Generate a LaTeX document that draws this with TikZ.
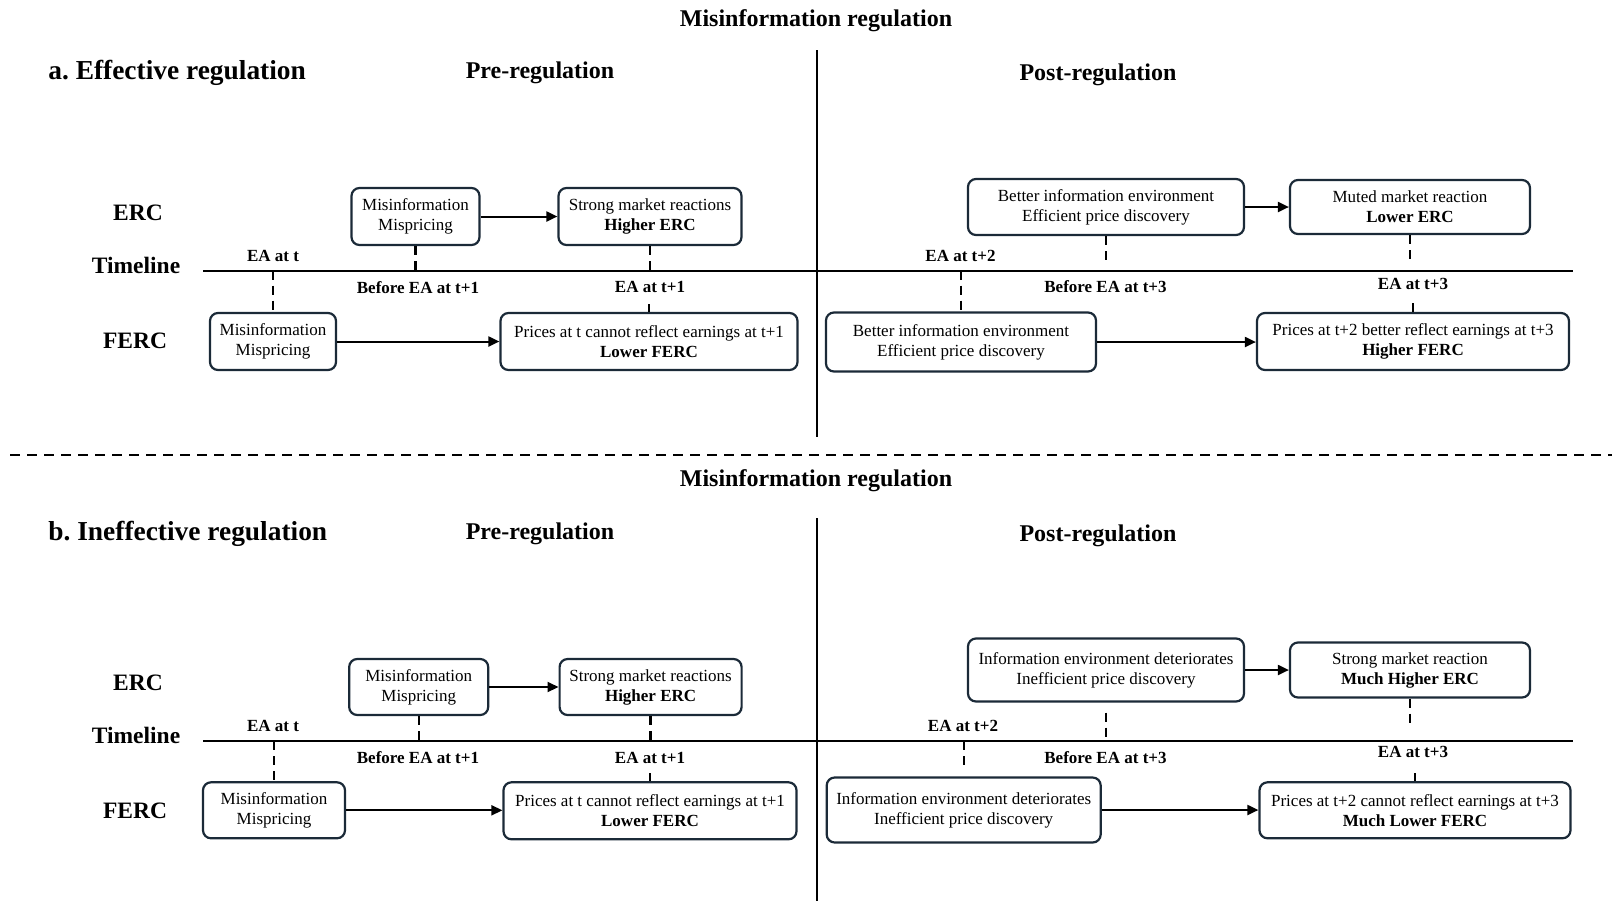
\documentclass[tikz,border=0pt]{standalone}
\usepackage{fontspec}
\setmainfont{Liberation Serif}
\usetikzlibrary{arrows.meta}
\definecolor{boxline}{HTML}{1B2A38}
\tikzset{
    box/.style = {draw = boxline, line width = 1.1pt, rounded corners = 4pt, align = center, inner sep = 1pt, font = \fontsize{8.5}{10}\selectfont},
    flow/.style = {-{Triangle[length = 5.5pt, width = 5pt]}, line width = 1pt},
    tick/.style = {line width = 1.2pt, dash pattern = on 4.5pt off 3pt},
    when/.style = {font = \bfseries\fontsize{8.5}{10}\selectfont},
    rowlab/.style = {font = \bfseries\fontsize{11.75}{14}\selectfont},
    phase/.style = {font = \bfseries\fontsize{12}{14}\selectfont},
    panel/.style = {font = \bfseries\fontsize{13.7}{16}\selectfont, anchor = west, inner sep = 0pt}
}
\begin{document}
\begin{tikzpicture}[x = 0.5pt, y = -0.5pt]
            \useasboundingbox (0, 0) rectangle (1612, 901);
            % a. effective regulation
            \node [phase] (titlea) at (816, 21) {Misinformation regulation};
            \node [panel] (panela) at (48, 73) {a.\ Effective regulation};
            \node [phase] (prea) at (540, 73) {Pre-regulation};
            \node [phase] (posta) at (1098, 75) {Post-regulation};
            \draw [line width = 1.3pt] (817, 50) -- (817, 437);
            \node [rowlab] (erca) at (138, 213) {ERC};
            \node [rowlab] (linea) at (136, 265) {Timeline};
            \node [rowlab] (ferca) at (135, 341) {FERC};
            \coordinate (tla) at (203, 270.7);
            \coordinate (tlb) at (1573, 270.7);
            \draw [line width = 1pt] (tla) -- (tlb);
            \node [box, minimum width = 64pt, minimum height = 28.5pt] (a1) at (415.5, 216.5) {Misinformation\\Mispricing};
            \node [box, minimum width = 91.5pt, minimum height = 28.5pt] (a2) at (650, 216.5) {Strong market reactions\\\textbf{Higher ERC}};
            \node [box, minimum width = 138pt, minimum height = 28pt] (a3) at (1106, 207) {Better information environment\\Efficient price discovery};
            \node [box, minimum width = 120pt, minimum height = 27pt] (a4) at (1410, 207) {Muted market reaction\\\textbf{Lower ERC}};
            \node [box, minimum width = 63pt, minimum height = 28.5pt] (f1) at (273, 341.5) {Misinformation\\Mispricing};
            \node [box, minimum width = 148.5pt, minimum height = 28.5pt] (f2) at (649, 341.5) {Prices at t cannot reflect earnings at t+1\\\textbf{Lower FERC}};
            \node [box, minimum width = 135pt, minimum height = 29.5pt] (f3) at (961, 342) {Better information environment\\Efficient price discovery};
            \node [box, minimum width = 156pt, minimum height = 28.5pt] (f4) at (1413, 341.5) {Prices at t+2 better reflect earnings at t+3\\\textbf{Higher FERC}};
            \draw [flow] (a1) -- (a2);
            \draw [flow] (a3.east) -- (a3.east -| a4.west);
            \draw [flow] (f1) -- (f2);
            \draw [flow] (f3.east) -- (f3.east -| f4.west);
            \node [when] (eta) at (273, 256) {EA at t};
            \node [when] (beta) at (418, 288) {Before EA at t+1};
            \node [when] (etb) at (650, 287) {EA at t+1};
            \node [when] (etc) at (960.5, 256) {EA at t+2};
            \node [when] (betc) at (1105.5, 287) {Before EA at t+3};
            \node [when] (etd) at (1413, 284) {EA at t+3};
            \coordinate (dtb) at (649, 304);
            \coordinate (dtd) at (1413, 303);
            \draw [tick] (a1.south) -- (a1.south |- tla);
            \draw [tick] (a2.south) -- (a2.south |- tla);
            \draw [tick, shorten >= 3.5pt] (a3.south) -- (a3.south |- tla);
            \draw [tick, shorten >= 3.5pt] (a4.south) -- (a4.south |- tla);
            \draw [tick] (f1.north |- tla) -- (f1.north);
            \draw [tick] (f3.north |- tla) -- (f3.north);
            \draw [line width = 1.2pt] (dtb) -- (f2.north);
            \draw [line width = 1.2pt] (dtd) -- (f4.north);
            % separator
            \coordinate (sepl) at (10, 455);
            \coordinate (sepr) at (1612, 455);
            \draw [line width = 1.2pt, dash pattern = on 5pt off 3.5pt] (sepl) -- (sepr);
            % b. ineffective regulation
            \node [phase] (titleb) at (816, 481) {Misinformation regulation};
            \node [panel] (panelb) at (48, 534) {b.\ Ineffective regulation};
            \node [phase] (preb) at (540, 534) {Pre-regulation};
            \node [phase] (postb) at (1098, 536) {Post-regulation};
            \draw [line width = 1.3pt] (817, 518) -- (817, 901);
            \node [rowlab] (ercb) at (138, 683) {ERC};
            \node [rowlab] (lineb) at (136, 735) {Timeline};
            \node [rowlab] (fercb) at (135, 811) {FERC};
            \coordinate (tlc) at (203, 741);
            \coordinate (tld) at (1573, 741);
            \draw [line width = 1pt] (tlc) -- (tld);
            \node [box, minimum width = 69.5pt, minimum height = 28pt] (b1) at (418.7, 687) {Misinformation\\Mispricing};
            \node [box, minimum width = 91pt, minimum height = 28pt] (b2) at (650.6, 687) {Strong market reactions\\\textbf{Higher ERC}};
            \node [box, minimum width = 138pt, minimum height = 31.5pt] (b3) at (1106, 670) {Information environment deteriorates\\Inefficient price discovery};
            \node [box, minimum width = 120pt, minimum height = 27.5pt] (b4) at (1410, 670) {Strong market reaction\\\textbf{Much Higher ERC}};
            \node [box, minimum width = 71pt, minimum height = 28pt] (g1) at (274, 810.3) {Misinformation\\Mispricing};
            \node [box, minimum width = 146.5pt, minimum height = 28.5pt] (g2) at (650, 810.8) {Prices at t cannot reflect earnings at t+1\\\textbf{Lower FERC}};
            \node [box, minimum width = 137pt, minimum height = 32.5pt] (g3) at (963.7, 810) {Information environment deteriorates\\Inefficient price discovery};
            \node [box, minimum width = 155.5pt, minimum height = 28pt] (g4) at (1415, 810.3) {Prices at t+2 cannot reflect earnings at t+3\\\textbf{Much Lower FERC}};
            \draw [flow] (b1.east) -- (b1.east -| b2.west);
            \draw [flow] (b3) -- (b4);
            \draw [flow] (g1.east) -- (g1.east -| g2.west);
            \draw [flow] (g3.east) -- (g3.east -| g4.west);
            \node [when] (ete) at (273, 726) {EA at t};
            \node [when] (bete) at (418, 758) {Before EA at t+1};
            \node [when] (etf) at (650, 758) {EA at t+1};
            \node [when] (etg) at (963, 726) {EA at t+2};
            \node [when] (betg) at (1105.5, 758) {Before EA at t+3};
            \node [when] (eth) at (1413, 752) {EA at t+3};
            \coordinate (dtf) at (650, 773);
            \coordinate (dth) at (1415, 773);
            \draw [tick] (b1.south) -- (b1.south |- tlc);
            \draw [tick] (b2.south) -- (b2.south |- tlc);
            \draw [tick, shorten <= 5pt] (b3.south) -- (b3.south |- tlc);
            \draw [tick, shorten >= 7pt] (b4.south) -- (b4.south |- tlc);
            \draw [tick] (g1.north |- tlc) -- (g1.north);
            \draw [tick, shorten >= 3.5pt] (g3.north |- tlc) -- (g3.north);
            \draw [line width = 1.2pt] (dtf) -- (g2.north);
            \draw [line width = 1.2pt] (dth) -- (g4.north);
        \end{tikzpicture}
\end{document}
